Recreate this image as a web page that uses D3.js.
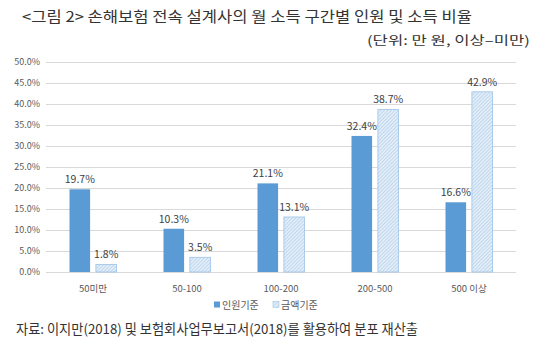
<!DOCTYPE html>
<html><head><meta charset="utf-8">
<script src="https://cdn.jsdelivr.net/npm/d3@7"></script>
<style>body{margin:0;background:#fff}svg{display:block}</style>
</head><body>
<svg id="c" width="540" height="345"></svg>
<script>
const categories = ["50미만", "50-100", "100-200", "200-500", "500 이상"];
const seriesNames = ["인원기준", "금액기준"];
const personValues = [19.7, 10.3, 21.1, 32.4, 16.6];
const amountValues = [1.8, 3.5, 13.1, 38.7, 42.9];
const yTicks = [0, 5, 10, 15, 20, 25, 30, 35, 40, 45, 50];
const titleText = "<그림 2> 손해보험 전속 설계사의 월 소득 구간별 인원 및 소득 비율";
const unitText = "(단위: 만 원, 이상–미만)";
const sourceText = "자료: 이지만(2018) 및 보험회사업무보고서(2018)를 활용하여 분포 재산출";

(function(){
const svg = d3.select("#c");
const font = "'Noto Sans CJK KR', 'Noto Sans', sans-serif";
const defs = svg.append("defs");
const pat = defs.append("pattern").attr("id","hatch").attr("patternUnits","userSpaceOnUse")
  .attr("width",2.5).attr("height",2.5).attr("patternTransform","rotate(45)");
pat.append("rect").attr("width",2.5).attr("height",2.5).attr("fill","#e2edf8");
pat.append("line").attr("x1",0).attr("y1",0).attr("x2",0).attr("y2",2.5).attr("stroke","#a9c9e8").attr("stroke-width",1.1);

const pLeft = 46, pRight = 516, pTop = 62, pBottom = 272;
const x = d3.scaleBand().domain(categories).range([pLeft, pRight]).paddingInner(0).paddingOuter(0);
const x1 = d3.scaleBand().domain(seriesNames).range([23.5, x.bandwidth()-23.5]).paddingInner(0.22);
const y = d3.scaleLinear().domain([0, 50]).range([pBottom, pTop]);

svg.append("g").selectAll("line").data(yTicks).join("line")
  .attr("x1", pLeft).attr("x2", pRight)
  .attr("y1", d => Math.round(y(d))+0.5).attr("y2", d => Math.round(y(d))+0.5)
  .attr("stroke", "#d9d9d9").attr("stroke-width", 1);

const yAxis = d3.axisLeft(y).tickValues(yTicks).tickFormat(d => d.toFixed(1) + "%").tickSize(0).tickPadding(6);
const ga = svg.append("g").attr("transform", `translate(${pLeft},0)`).call(yAxis);
ga.select(".domain").remove();
ga.selectAll("text").attr("font-family", font).attr("font-size", 9).attr("fill", "#595959");

const xAxis = d3.axisBottom(x).tickSize(0).tickPadding(13);
const gx = svg.append("g").attr("transform", `translate(0,${pBottom})`).call(xAxis);
gx.select(".domain").remove();
gx.selectAll("text").attr("font-family", font).attr("font-size", 9.5).attr("fill", "#595959");

const rows = categories.map((c, i) => ({c, vals: [
  {s: seriesNames[0], v: personValues[i]},
  {s: seriesNames[1], v: amountValues[i]}]}));

const groups = svg.append("g").selectAll("g").data(rows).join("g")
  .attr("transform", d => `translate(${x(d.c)},0)`);
groups.selectAll("rect").data(d => d.vals).join("rect")
  .attr("x", d => x1(d.s)).attr("width", x1.bandwidth())
  .attr("y", d => y(d.v)).attr("height", d => y(0) - y(d.v))
  .attr("fill", d => d.s === seriesNames[0] ? "#5b9bd5" : "url(#hatch)")
  .attr("stroke", d => d.s === seriesNames[0] ? "none" : "#9dc3e6")
  .attr("stroke-width", 0.8);
groups.selectAll("text").data(d => d.vals).join("text")
  .attr("x", d => x1(d.s) + x1.bandwidth()/2).attr("y", d => y(d.v) - 6)
  .attr("text-anchor", "middle").attr("font-family", font).attr("font-size", 10.5).attr("fill", "#404040")
  .text(d => d.v.toFixed(1) + "%");

const lg = svg.append("g").attr("transform", "translate(214,305)");
const lItems = [{s: seriesNames[0], x: 0}, {s: seriesNames[1], x: 59}];
lItems.forEach(it => {
  lg.append("rect").attr("x", it.x).attr("y", -3.5).attr("width", 6).attr("height", 6)
    .attr("fill", it.s === seriesNames[0] ? "#5b9bd5" : "url(#hatch)")
    .attr("stroke", it.s === seriesNames[0] ? "none" : "#9dc3e6").attr("stroke-width", 0.6);
  lg.append("text").attr("x", it.x + 8).attr("y", 0).attr("dy", "0.35em")
    .attr("font-family", font).attr("font-size", 10).attr("fill", "#595959").text(it.s);
});

svg.append("text").attr("x", 22).attr("y", 17).attr("dy", "0.35em")
  .attr("font-family", font).attr("font-size", 14.5).attr("fill", "#333")
  .attr("textLength", 450).attr("lengthAdjust", "spacingAndGlyphs").text(titleText);
svg.append("text").attr("x", 530).attr("y", 41).attr("dy", "0.35em").attr("text-anchor", "end")
  .attr("font-family", font).attr("font-size", 12.5).attr("fill", "#333")
  .attr("textLength", 163).attr("lengthAdjust", "spacingAndGlyphs").text(unitText);
svg.append("text").attr("x", 16).attr("y", 329).attr("dy", "0.35em")
  .attr("font-family", font).attr("font-size", 13.5).attr("fill", "#333")
  .attr("textLength", 402).attr("lengthAdjust", "spacingAndGlyphs").text(sourceText);
})();
</script>
</body></html>
